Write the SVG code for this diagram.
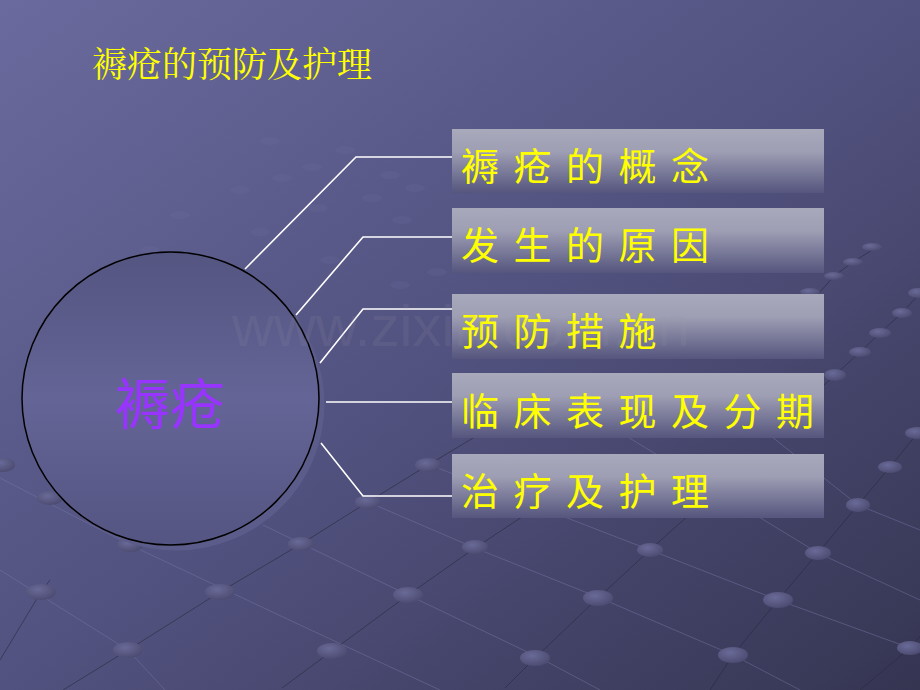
<svg xmlns="http://www.w3.org/2000/svg" width="920" height="690" viewBox="0 0 920 690">
<defs>
<linearGradient id="bg" x1="0" y1="0" x2="1" y2="1">
<stop offset="0" stop-color="#6a6a9e"/>
<stop offset="0.5" stop-color="#525280"/>
<stop offset="1" stop-color="#353552"/>
</linearGradient>
<linearGradient id="box" x1="0" y1="0" x2="0" y2="1">
<stop offset="0" stop-color="#a9a9bc"/>
<stop offset="0.35" stop-color="#9e9eb4"/>
<stop offset="1" stop-color="#55557e"/>
</linearGradient>
<linearGradient id="circ" x1="0" y1="0" x2="0" y2="1">
<stop offset="0" stop-color="#555582"/>
<stop offset="0.5" stop-color="#646496"/>
<stop offset="1" stop-color="#555583"/>
</linearGradient>
<radialGradient id="dot" cx="0.4" cy="0.35" r="0.7">
<stop offset="0" stop-color="#6a6a98"/>
<stop offset="1" stop-color="#4a4a70"/>
</radialGradient>
<style>
.box{fill:url(#box)}
.lbl{font-family:"Noto Sans CJK SC","Noto Sans CJK TC",sans-serif;font-size:38px;fill:#ffff00;letter-spacing:14.5px}
.conn{fill:none;stroke:#ffffff;stroke-width:1.6}
.gA{stroke:#7a7aa8;stroke-width:1;opacity:0.45;fill:none}
.gB{stroke:#2a2a40;stroke-width:1;opacity:0.6;fill:none}
.d{fill:url(#dot)}
.fd{fill:#6c6ca0;opacity:0.2}
</style>
</defs>
<rect width="920" height="690" fill="url(#bg)"/>
<g id="background-grid">
<path class="gA" d="M0 478 L130 545 L300 625 L440 690"/>
<path class="gA" d="M0 570 L128 650 L165 690"/>
<path class="gA" d="M263 525 L408 595 L540 658 L600 690"/>
<path class="gA" d="M368 502 L475 548 L600 598 L733 655 L800 690"/>
<path class="gA" d="M430 465 L650 550 L778 600 L910 648"/>
<path class="gA" d="M600 420 L818 553 L920 600"/>
<path class="gA" d="M700 380 L858 505 L920 530"/>
<path class="gB" d="M63 690 L128 650 L220 592 L301 544 L368 502 L428 465 L520 410"/>
<path class="gB" d="M282 688 L332 651 L408 595 L475 548 L540 505"/>
<path class="gB" d="M505 688 L535 658 L598 598 L650 550 L700 505"/>
<path class="gB" d="M710 690 L733 655 L778 600 L818 553 L858 505 L890 467 L920 430"/>
<path class="gB" d="M0 660 L41 592 L50 580"/>
<path class="gB" d="M824 385 L835 375 L860 352 L880 333 L902 313 L920 293"/>
<path class="gB" d="M820 292 L834 276 L853 262 L877 247"/>
<path class="gB" d="M860 690 L910 648 L920 636"/>
<ellipse class="d" cx="3" cy="465" rx="12" ry="7"/>
<ellipse class="d" cx="50" cy="498" rx="13" ry="7"/>
<ellipse class="d" cx="130" cy="545" rx="13" ry="7"/>
<ellipse class="d" cx="301" cy="544" rx="13" ry="7"/>
<ellipse class="d" cx="368" cy="502" rx="13" ry="7"/>
<ellipse class="d" cx="428" cy="465" rx="13" ry="7"/>
<ellipse class="d" cx="41" cy="592" rx="15" ry="8"/>
<ellipse class="d" cx="220" cy="592" rx="15" ry="8"/>
<ellipse class="d" cx="408" cy="595" rx="15" ry="8"/>
<ellipse class="d" cx="128" cy="650" rx="15" ry="8"/>
<ellipse class="d" cx="332" cy="651" rx="15" ry="8"/>
<ellipse class="d" cx="475" cy="547" rx="13" ry="7"/>
<ellipse class="d" cx="650" cy="550" rx="13" ry="7"/>
<ellipse class="d" cx="598" cy="598" rx="15" ry="8"/>
<ellipse class="d" cx="778" cy="600" rx="15" ry="8"/>
<ellipse class="d" cx="535" cy="658" rx="15" ry="8"/>
<ellipse class="d" cx="733" cy="655" rx="15" ry="8"/>
<ellipse class="d" cx="818" cy="553" rx="13" ry="7"/>
<ellipse class="d" cx="858" cy="505" rx="12" ry="7"/>
<ellipse class="d" cx="890" cy="467" rx="12" ry="6"/>
<ellipse class="d" cx="917" cy="433" rx="12" ry="6"/>
<ellipse class="d" cx="910" cy="648" rx="13" ry="7"/>
<ellipse class="d" cx="835" cy="375" rx="11" ry="6"/>
<ellipse class="d" cx="860" cy="352" rx="11" ry="5"/>
<ellipse class="d" cx="880" cy="333" rx="11" ry="5"/>
<ellipse class="d" cx="902" cy="313" rx="10" ry="5"/>
<ellipse class="d" cx="918" cy="293" rx="10" ry="5"/>
<ellipse class="d" cx="872" cy="247" rx="10" ry="4"/>
<ellipse class="d" cx="853" cy="262" rx="10" ry="4"/>
<ellipse class="d" cx="834" cy="276" rx="10" ry="4"/>
<ellipse class="d" cx="810" cy="292" rx="10" ry="4"/>
<ellipse class="fd" cx="270" cy="141" rx="10" ry="4"/>
<ellipse class="fd" cx="312" cy="167" rx="10" ry="4"/>
<ellipse class="fd" cx="345" cy="150" rx="10" ry="4"/>
<ellipse class="fd" cx="390" cy="175" rx="10" ry="4"/>
<ellipse class="fd" cx="282" cy="178" rx="10" ry="4"/>
<ellipse class="fd" cx="240" cy="190" rx="10" ry="4"/>
<ellipse class="fd" cx="318" cy="208" rx="10" ry="4"/>
<ellipse class="fd" cx="372" cy="198" rx="10" ry="4"/>
<ellipse class="fd" cx="415" cy="188" rx="10" ry="4"/>
<ellipse class="fd" cx="402" cy="220" rx="10" ry="4"/>
<ellipse class="fd" cx="260" cy="232" rx="10" ry="4"/>
<ellipse class="fd" cx="330" cy="260" rx="10" ry="4"/>
<ellipse class="fd" cx="437" cy="272" rx="10" ry="4"/>
<ellipse class="fd" cx="180" cy="215" rx="10" ry="4"/>
<ellipse class="fd" cx="150" cy="250" rx="10" ry="4"/>
<ellipse class="fd" cx="400" cy="285" rx="10" ry="4"/>
</g>
<text x="92" y="77" font-family="'Noto Serif CJK SC','Noto Sans CJK SC',serif" font-size="35" fill="#ffff00">褥疮的预防及护理</text>
<g id="connectors">
<polyline class="conn" points="245,269 356,157 452,157"/>
<polyline class="conn" points="296,315 363,237 452,237"/>
<polyline class="conn" points="320,363 363,309 452,309"/>
<polyline class="conn" points="326,402 452,402"/>
<polyline class="conn" points="321,443 363,496 452,496"/>
</g>
<g id="center">
<ellipse cx="176" cy="404" rx="148.5" ry="146.5" fill="#5c5c8b"/>
<ellipse cx="170.5" cy="398.5" rx="148.5" ry="146.5" fill="url(#circ)" stroke="#000000" stroke-width="1.5"/>
<text x="170" y="424" text-anchor="middle" font-family="'Noto Sans CJK SC',sans-serif" font-size="55" fill="#9933ff">褥疮</text>
</g>
<g id="n1"><rect class="box" x="452" y="129" width="372" height="64"/><text class="lbl" x="461" y="180">褥疮的概念</text></g>
<g id="n2"><rect class="box" x="452" y="208" width="372" height="65"/><text class="lbl" x="461" y="259">发生的原因</text></g>
<g id="n3"><rect class="box" x="452" y="294" width="372" height="65"/><text class="lbl" x="461" y="345">预防措施</text></g>
<g id="n4"><rect class="box" x="452" y="373" width="372" height="65"/><text class="lbl" x="461" y="425">临床表现及分期</text></g>
<g id="n5"><rect class="box" x="452" y="454" width="372" height="64"/><text class="lbl" x="461" y="505">治疗及护理</text></g>
<text x="232" y="346" font-family="'Liberation Sans',Arial,sans-serif" font-size="58" fill="#9a9aa8" opacity="0.12">www.zixin.com.cn</text>
</svg>
